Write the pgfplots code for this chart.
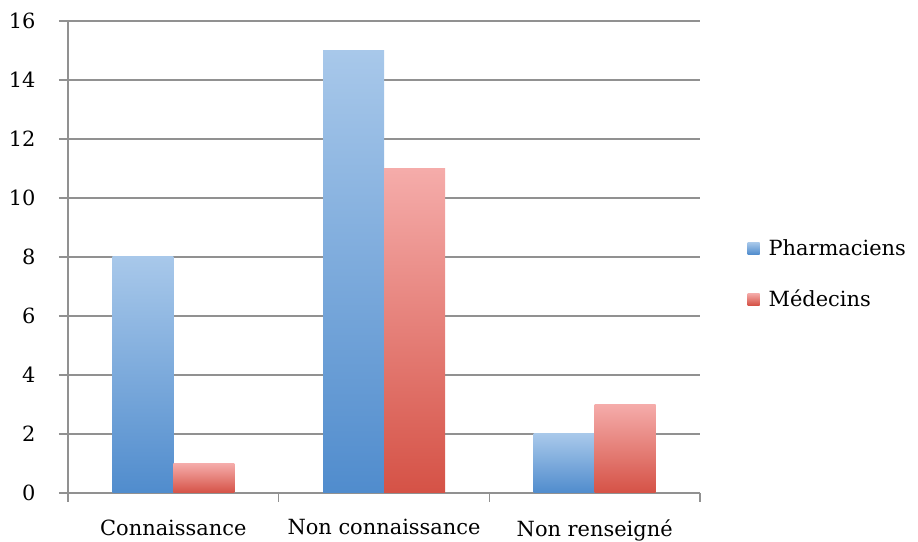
\documentclass[border=0pt]{standalone}
\usepackage{fontspec}
\setmainfont{DejaVu Serif}
\usepackage{pgfplots}
\pgfplotsset{compat=1.18}
\definecolor{bluetop}{RGB}{168,200,234}
\definecolor{bluebot}{RGB}{80,140,205}
\definecolor{redtop}{RGB}{245,172,170}
\definecolor{redbot}{RGB}{213,82,70}
\definecolor{gridgray}{RGB}{145,145,145}
\begin{document}
\begin{tikzpicture}[x=1bp,y=1bp]
\path[use as bounding box] (0,0) rectangle (918,542);
\begin{axis}[
  at={(68bp,49bp)}, anchor=south west,
  scale only axis, width=632bp, height=472bp,
  xmin=-0.5, xmax=2.5, ymin=0, ymax=16,
  bar width=61bp,
  xtick={0,1,2},
  xticklabels={Connaissance, Non connaissance, Non renseigné},
  minor xtick={-0.5,0.5,1.5,2.5},
  ytick={0,2,4,6,8,10,12,14,16},
  yticklabels={0,2,4,6,8,10,12,14,16},
  ymajorgrids,
  grid style={gridgray, line width=1.4bp},
  axis x line*=bottom, axis y line*=left,
  axis line style={gridgray, line width=1.4bp},
  tick style={gridgray, line width=1.4bp},
  tick align=outside,
  major tick length=9bp, minor tick length=9bp,
  xtick style={draw=none},
  minor x tick style={gridgray, line width=1.4bp, draw=gridgray},
  tick label style={font=\fontsize{21}{25}\selectfont, black},
  xticklabel style={yshift=-14bp},
  yticklabel style={xshift=-20bp},
  legend style={at={(1.075,0.464)}, anchor=west, draw=none, fill=none,
    font=\fontsize{21}{25}\selectfont, row sep=29bp, inner sep=0pt},
  legend cell align=left,
  legend image code/.code={\path[#1] (0bp,-6bp) rectangle (12bp,6bp); \path (0bp,0bp) -- (19bp,0bp);},
]
\addlegendimage{ybar, draw=none, top color=bluetop, bottom color=bluebot}
\addlegendentry{Pharmaciens}
\addlegendimage{ybar, draw=none, top color=redtop, bottom color=redbot}
\addlegendentry{Médecins}
% Pharmaciens
\addplot[ybar, bar shift=-30.5bp, draw=none, top color=bluetop, bottom color=bluebot, forget plot] coordinates {(0,8)};
\addplot[ybar, bar shift=-30.5bp, draw=none, top color=bluetop, bottom color=bluebot, forget plot] coordinates {(1,15)};
\addplot[ybar, bar shift=-30.5bp, draw=none, top color=bluetop, bottom color=bluebot, forget plot] coordinates {(2,2)};
% Medecins
\addplot[ybar, bar shift=30.5bp, draw=none, top color=redtop, bottom color=redbot, forget plot] coordinates {(0,1)};
\addplot[ybar, bar shift=30.5bp, draw=none, top color=redtop, bottom color=redbot, forget plot] coordinates {(1,11)};
\addplot[ybar, bar shift=30.5bp, draw=none, top color=redtop, bottom color=redbot, forget plot] coordinates {(2,3)};
\end{axis}
\end{tikzpicture}
\end{document}
